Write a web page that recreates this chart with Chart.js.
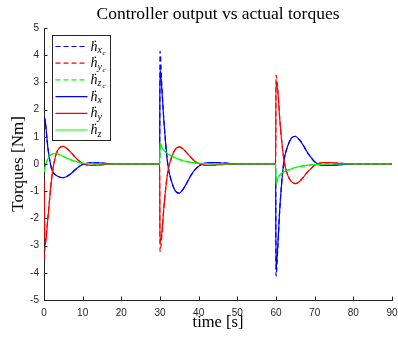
<!DOCTYPE html>
<html>
<head>
<meta charset="utf-8">
<script src="https://cdn.jsdelivr.net/npm/chart.js@4"></script>
<style>
  html, body { margin: 0; padding: 0; background: #fff; }
  #wrap { width: 398px; height: 338px; }
</style>
</head>
<body>
<div id="wrap"><canvas id="torqueChart" width="398" height="338"></canvas></div>
<script>
// time samples [s]
const time = [0, 0.3, 1, 2, 3, 4, 5, 6, 7, 8, 9, 10, 12, 14, 17, 20, 25, 29.9,
    30, 30.5, 31, 32, 33, 34, 35, 36, 37, 38, 39, 40, 42, 44, 47, 50, 55, 59.9,
    60, 60.5, 61, 62, 63, 64, 65, 66, 67, 68, 69, 70, 72, 74, 77, 80, 85, 90];

// actual torques
const hx = [1.72, 1.6, 0.6, -0.2, -0.4, -0.48, -0.5, -0.45, -0.35, -0.22, -0.1, -0.02, 0.04, 0.04, 0.01, 0, 0, 0,
    3.5, 2.7, 1.6, 0.0, -0.65, -1.0, -1.07, -0.92, -0.68, -0.42, -0.22, -0.08, 0.04, 0.05, 0.03, 0, 0, 0,
    -3.9, -2.9, -1.6, 0.05, 0.65, 0.95, 1.02, 0.9, 0.7, 0.45, 0.25, 0.08, -0.05, -0.05, -0.02, 0, 0, 0];
const hy = [-0.6, -3.0, -2.0, -0.5, 0.3, 0.6, 0.65, 0.56, 0.42, 0.26, 0.12, 0.02, -0.05, -0.04, -0.01, 0, 0, 0,
    -2.9, -2.5, -1.6, -0.3, 0.25, 0.55, 0.63, 0.55, 0.4, 0.24, 0.1, 0.02, -0.05, -0.04, -0.01, 0, 0, 0,
    3.0, 2.6, 1.6, 0.2, -0.4, -0.65, -0.72, -0.65, -0.5, -0.32, -0.17, -0.05, 0.05, 0.05, 0.02, 0, 0, 0];
const hz = [-0.3, -0.1, 0.2, 0.36, 0.39, 0.35, 0.28, 0.21, 0.15, 0.1, 0.06, 0.03, 0.01, 0, 0, 0, 0, 0,
    0.78, 0.6, 0.5, 0.38, 0.3, 0.22, 0.17, 0.12, 0.09, 0.06, 0.04, 0.03, 0.01, 0, 0, 0, 0, 0,
    -0.75, -0.5, -0.4, -0.3, -0.23, -0.18, -0.13, -0.1, -0.07, -0.05, -0.03, -0.02, -0.01, 0, 0, 0, 0, 0];

// controller output (commanded)
const hxc = [1.75, 1.6, 0.6, -0.2, -0.4, -0.48, -0.5, -0.45, -0.35, -0.22, -0.1, -0.02, 0.04, 0.04, 0.01, 0, 0, 0,
    4.15, 2.8, 1.6, 0.0, -0.65, -1.0, -1.07, -0.92, -0.68, -0.42, -0.22, -0.08, 0.04, 0.05, 0.03, 0, 0, 0,
    -4.12, -3.0, -1.6, 0.05, 0.65, 0.95, 1.02, 0.9, 0.7, 0.45, 0.25, 0.08, -0.05, -0.05, -0.02, 0, 0, 0];
const hyc = [-3.5, -3.0, -2.0, -0.5, 0.3, 0.6, 0.65, 0.56, 0.42, 0.26, 0.12, 0.02, -0.05, -0.04, -0.01, 0, 0, 0,
    -3.22, -2.6, -1.6, -0.3, 0.25, 0.55, 0.63, 0.55, 0.4, 0.24, 0.1, 0.02, -0.05, -0.04, -0.01, 0, 0, 0,
    3.27, 2.7, 1.6, 0.2, -0.4, -0.65, -0.72, -0.65, -0.5, -0.32, -0.17, -0.05, 0.05, 0.05, 0.02, 0, 0, 0];
const hzc = hz.slice();

const xTicks = [0, 10, 20, 30, 40, 50, 60, 70, 80, 90];
const yTicks = [-5, -4, -3, -2, -1, 0, 1, 2, 3, 4, 5];

const titleText = 'Controller output vs actual torques';
const axisColor = '#262626';
const serif = '"Liberation Serif", "Times New Roman", serif';

function toPoints(ys) {
    return ys.map((v, i) => ({ x: time[i], y: v }));
}

// legend entries: subscript and sub-subscript of the dotted h
const legendItems = [
    { sub: 'x', subsub: 'c', color: '#0000ff', dash: [5, 3] },
    { sub: 'y', subsub: 'c', color: '#ff0000', dash: [5, 3] },
    { sub: 'z', subsub: 'c', color: '#00ff00', dash: [5, 3] },
    { sub: 'x', subsub: '', color: '#0000ff', dash: [] },
    { sub: 'y', subsub: '', color: '#ff0000', dash: [] },
    { sub: 'z', subsub: '', color: '#00ff00', dash: [] }
];

function makeSet(data, item, order) {
    return {
        data: toPoints(data),
        borderColor: item.color,
        borderDash: item.dash,
        borderWidth: 1.2,
        pointRadius: 0,
        cubicInterpolationMode: 'monotone',
        fill: false,
        order: order
    };
}

// ticks pointing inward, MATLAB style
const innerTicks = {
    id: 'innerTicks',
    afterDraw(chart) {
        const ctx = chart.ctx;
        const area = chart.chartArea;
        ctx.save();
        ctx.strokeStyle = axisColor;
        ctx.lineWidth = 1;
        chart.scales.x.ticks.forEach(t => {
            const px = Math.round(chart.scales.x.getPixelForValue(t.value)) + 0.5;
            ctx.beginPath();
            ctx.moveTo(px, area.bottom);
            ctx.lineTo(px, area.bottom - 3.5);
            ctx.stroke();
        });
        chart.scales.y.ticks.forEach(t => {
            const py = Math.round(chart.scales.y.getPixelForValue(t.value)) + 0.5;
            ctx.beginPath();
            ctx.moveTo(area.left, py);
            ctx.lineTo(area.left + 3.5, py);
            ctx.stroke();
        });
        ctx.restore();
    }
};

// title centred over the axes rather than the canvas
const axesTitle = {
    id: 'axesTitle',
    afterDraw(chart) {
        const ctx = chart.ctx;
        const area = chart.chartArea;
        ctx.save();
        ctx.fillStyle = '#000000';
        ctx.font = '17.5px ' + serif;
        ctx.textAlign = 'center';
        ctx.textBaseline = 'alphabetic';
        ctx.fillText(titleText, (area.left + area.right) / 2, area.top - 9);
        ctx.restore();
    }
};

// boxed legend inside the axes, with subscripted labels
const boxLegend = {
    id: 'boxLegend',
    afterDraw(chart) {
        const ctx = chart.ctx;
        const area = chart.chartArea;
        const x0 = area.left + 8.5, y0 = area.top + 7.5;
        const w = 58, h = 105, step = 16.7;
        ctx.save();
        ctx.fillStyle = '#ffffff';
        ctx.fillRect(x0, y0, w, h);
        ctx.strokeStyle = axisColor;
        ctx.lineWidth = 1;
        ctx.strokeRect(x0, y0, w, h);
        legendItems.forEach((it, i) => {
            const y = y0 + 11 + i * step;
            ctx.strokeStyle = it.color;
            ctx.lineWidth = 1.2;
            ctx.setLineDash(it.dash);
            ctx.beginPath();
            ctx.moveTo(x0 + 3, y);
            ctx.lineTo(x0 + 35, y);
            ctx.stroke();
            ctx.setLineDash([]);
            ctx.fillStyle = '#000000';
            ctx.textBaseline = 'alphabetic';
            const bx = x0 + 38, by = y + 4;
            ctx.font = 'italic 14px ' + serif;
            ctx.fillText('h', bx, by);
            ctx.font = '14px ' + serif;
            ctx.fillText('\u02D9', bx + 2.5, by - 1);
            ctx.font = 'italic 10px ' + serif;
            ctx.fillText(it.sub, bx + 7, by + 2.5);
            if (it.subsub) {
                ctx.font = 'italic 7px ' + serif;
                ctx.fillText(it.subsub, bx + 12, by + 4.5);
            }
        });
        ctx.restore();
    }
};

const ctx = document.getElementById('torqueChart').getContext('2d');
const torqueChart = new Chart(ctx, {
    type: 'line',
    data: {
        datasets: [
            makeSet(hxc, legendItems[0], 6),
            makeSet(hyc, legendItems[1], 5),
            makeSet(hzc, legendItems[2], 4),
            makeSet(hx, legendItems[3], 3),
            makeSet(hy, legendItems[4], 2),
            makeSet(hz, legendItems[5], 1)
        ]
    },
    options: {
        responsive: false,
        animation: false,
        layout: { padding: { top: 28, right: 0 } },
        plugins: {
            legend: { display: false },
            tooltip: { enabled: false },
            title: { display: false }
        },
        scales: {
            x: {
                type: 'linear',
                min: 0,
                max: 90,
                afterBuildTicks: s => { s.ticks = xTicks.map(v => ({ value: v })); },
                afterFit: s => {
                    s.height = 38;
                    s.paddingLeft = 0;
                    s.paddingRight = 6;
                },
                grid: { display: true, drawOnChartArea: false, drawTicks: false },
                border: { display: true, color: axisColor, width: 1 },
                ticks: {
                    color: axisColor,
                    padding: 7,
                    font: { family: '"Liberation Sans", Arial, sans-serif', size: 10 }
                },
                title: {
                    display: true,
                    text: 'time [s]',
                    color: '#000000',
                    font: { family: serif, size: 16.5 },
                    padding: { top: 0, bottom: 5 }
                }
            },
            y: {
                min: -5,
                max: 5,
                afterBuildTicks: s => { s.ticks = yTicks.map(v => ({ value: v })); },
                afterFit: s => { s.width = 44; },
                grid: { display: true, drawOnChartArea: false, drawTicks: false },
                border: { display: true, color: axisColor, width: 1 },
                ticks: {
                    color: axisColor,
                    padding: 5,
                    font: { family: '"Liberation Sans", Arial, sans-serif', size: 10 }
                },
                title: {
                    display: true,
                    text: 'Torques [Nm]',
                    color: '#000000',
                    font: { family: serif, size: 17 },
                    padding: 8
                }
            }
        }
    },
    plugins: [innerTicks, boxLegend, axesTitle]
});
</script>
</body>
</html>
